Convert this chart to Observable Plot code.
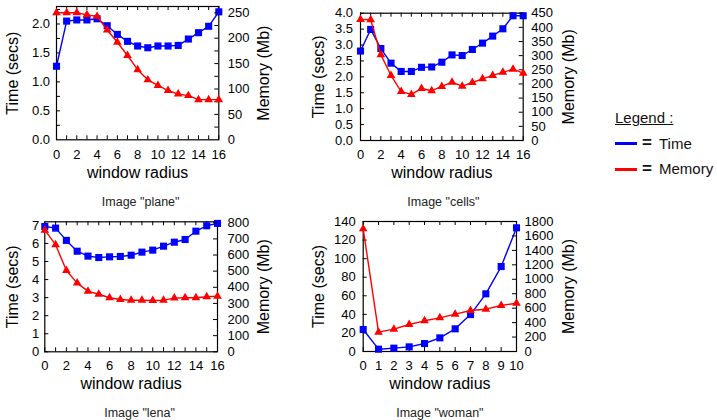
<!DOCTYPE html>
<html><head><meta charset="utf-8">
<script src="https://cdn.jsdelivr.net/npm/d3@7"></script>
<script src="https://cdn.jsdelivr.net/npm/@observablehq/plot@0.6"></script>
<style>
body{margin:0;background:#fff;}
#root{position:relative;width:717px;height:420px;font-family:"Liberation Sans",Arial,sans-serif;color:#000;overflow:hidden;}
#root svg{position:absolute;overflow:visible;}
.lg{position:absolute;font-size:15px;line-height:18px;white-space:nowrap;color:#111;}
.bar{position:absolute;width:22px;height:3px;}
</style></head><body><div id="root"></div>
<script>
// ---- data ----
const radius16 = [0,1,2,3,4,5,6,7,8,9,10,11,12,13,14,15,16];
const radius10 = [0,1,2,3,4,5,6,7,8,9,10];
const xLabels16 = [0,2,4,6,8,10,12,14,16];
const xLabels10 = [0,1,2,3,4,5,6,7,8,9,10];

const planeTime = [1.27,2.05,2.07,2.07,2.09,1.97,1.82,1.70,1.62,1.59,1.62,1.62,1.63,1.74,1.85,1.96,2.21];
const planeMem  = [250,250,250,246,243,216,192,166,138,118,107,97,90,87,79,79,79];
const cellsTime = [2.81,3.49,2.89,2.43,2.17,2.17,2.30,2.31,2.46,2.69,2.67,2.86,3.06,3.28,3.51,3.92,3.92];
const cellsMem  = [428,427,303,230,173,163,184,176,191,206,192,205,218,230,241,252,238];
const lenaTime  = [6.94,6.85,6.17,5.57,5.30,5.22,5.26,5.28,5.35,5.52,5.63,5.85,6.07,6.22,6.68,6.98,7.11];
const lenaMem   = [754,664,504,426,376,357,335,324,320,320,318,320,333,335,335,341,345];
const womanTime = [23.7,2.5,3.6,5.0,8.6,14.7,24.4,39.8,62.1,91.5,133.2];
const womanMem  = [1698,268,309,374,425,466,517,568,586,637,669];

const planeTimeTicks = [0,0.5,1,1.5,2];
const planeTimeMinor = [0.25,0.5,0.75,1,1.25,1.5,1.75,2,2.25];
const planeMemTicks  = [0,50,100,150,200,250];
const planeMemMinor  = [25,50,75,100,125,150,175,200,225,250];
const cellsTimeTicks = [0,0.5,1,1.5,2,2.5,3,3.5,4];
const cellsMemTicks  = [0,50,100,150,200,250,300,350,400,450];
const lenaTimeTicks  = [0,1,2,3,4,5,6,7];
const lenaMemTicks   = [0,100,200,300,400,500,600,700,800];
const womanTimeTicks = [0,20,40,60,80,100,120,140];
const womanMemTicks  = [0,200,400,600,800,1000,1200,1400,1600,1800];

const captions = ['Image "plane"','Image "cells"','Image "lena"','Image "woman"'];
const BLUE = "#0000ff", RED = "#ff0000";
const FONT = '"Liberation Sans", Arial, sans-serif';

const root = document.getElementById("root");

function panel(o) {
  const W = 300, H = 210;
  const [fx0, fx1, fy0, fy1] = o.frame;
  const mL = fx0 - o.left, mR = o.left + W - fx1, mT = fy0 - o.top, mB = o.top + H - fy1;
  const pw = fx1 - fx0, ph = fy1 - fy0;
  const rows = o.xs.map((x, i) => ({x, t: o.time[i], m: o.mem[i]}));
  const common = {width: W, height: H, marginLeft: mL, marginRight: mR, marginTop: mT, marginBottom: mB,
    style: {fontFamily: FONT, fontSize: "13px", background: "transparent", overflow: "visible"}};
  const a = Plot.plot({...common,
    x: {domain: [0, o.xs[o.xs.length - 1]]},
    y: {domain: o.tDom},
    marks: [
      Plot.axisX(o.xLabels, {tickSize: 0, tickPadding: o.xPad, label: null, fontSize: 13, tickFormat: d3.format("d")}),
      Plot.axisY(o.tTicks, {anchor: "left", tickSize: 0, tickPadding: o.tPad, label: null, tickFormat: o.tFmt, fontSize: 13}),
      Plot.tickX(o.xs, {x: d => d, insetTop: ph - 4, strokeWidth: 1}),
      Plot.tickX(o.xs, {x: d => d, insetBottom: ph - 4, strokeWidth: 1}),
      Plot.tickY(o.tMinor, {y: d => d, insetRight: pw - 4, strokeWidth: 1}),
      Plot.frame({stroke: "#000", strokeWidth: 1.2}),
      Plot.line(rows, {x: "x", y: "t", stroke: BLUE, strokeWidth: 1.4}),
      Plot.dot(rows, {x: "x", y: "t", symbol: "square", r: 4, fill: BLUE, stroke: "none"}),
      Plot.text(["Time (secs)"], {frameAnchor: "left", textAnchor: "middle", lineAnchor: "middle", dx: o.leftDx, rotate: -90, fontSize: 16}),
      Plot.text(["window radius"], {frameAnchor: "bottom", textAnchor: "middle", lineAnchor: "middle", dy: o.wrDy, fontSize: 16}),
      Plot.text([o.caption], {frameAnchor: "bottom", textAnchor: "middle", lineAnchor: "middle", dy: o.capDy, dx: o.capDx, fontSize: 12.5, fill: "#222"})
    ]});
  const b = Plot.plot({...common,
    x: {domain: [0, o.xs[o.xs.length - 1]], axis: null},
    y: {domain: o.mDom},
    marks: [
      Plot.axisY(o.mTicks, {anchor: "right", tickSize: 0, tickPadding: o.mPad, label: null, fontSize: 13, tickFormat: d3.format("d")}),
      Plot.tickY(o.mMinor, {y: d => d, insetLeft: pw - 4, strokeWidth: 1}),
      Plot.line(rows, {x: "x", y: "m", stroke: RED, strokeWidth: 1.4}),
      Plot.dot(rows, {x: "x", y: "m", symbol: "triangle", r: 3.2, fill: RED, stroke: "none"}),
      Plot.text(["Memory (Mb)"], {frameAnchor: "right", textAnchor: "middle", lineAnchor: "middle", dx: o.rightDx, rotate: -90, fontSize: 16})
    ]});
  for (const s of [a, b]) {
    s.style.left = o.left + "px";
    s.style.top = o.top + "px";
    root.appendChild(s);
  }
}

const f1 = d3.format(".1f"), f0 = d3.format("d");

panel({left: 0, top: 0, frame: [56, 218.3, 6, 139.3], xs: radius16, xLabels: xLabels16,
  time: planeTime, mem: planeMem, tDom: [0, 2.302], mDom: [0, 262.4],
  tTicks: planeTimeTicks, tMinor: planeTimeMinor, mTicks: planeMemTicks, mMinor: planeMemMinor, tFmt: f1,
  tPad: 6.5, mPad: 9, xPad: 10, leftDx: -43.3, rightDx: 45, wrDy: 33.4, capDy: 61.7, capDx: 3, caption: captions[0]});

panel({left: 300, top: 0, frame: [360, 522.7, 12.7, 140], xs: radius16, xLabels: xLabels16,
  time: cellsTime, mem: cellsMem, tDom: [0, 4], mDom: [0, 450],
  tTicks: cellsTimeTicks, tMinor: cellsTimeTicks, mTicks: cellsMemTicks, mMinor: cellsMemTicks, tFmt: f1,
  tPad: 7.5, mPad: 8, xPad: 9.5, leftDx: -41.7, rightDx: 45.3, wrDy: 32.5, capDy: 61, capDx: 1.5, caption: captions[1]});

panel({left: 0, top: 210, frame: [44.3, 217, 221.3, 351.3], xs: radius16, xLabels: xLabels16,
  time: lenaTime, mem: lenaMem, tDom: [0, 7.2], mDom: [0, 806],
  tTicks: lenaTimeTicks, tMinor: lenaTimeTicks, mTicks: lenaMemTicks, mMinor: lenaMemTicks, tFmt: f0,
  tPad: 5.5, mPad: 10, xPad: 9, leftDx: -31.6, rightDx: 46, wrDy: 32.3, capDy: 61, capDx: 8.4, caption: captions[2]});

panel({left: 300, top: 210, frame: [362.7, 516, 221, 351], xs: radius10, xLabels: xLabels10,
  time: womanTime, mem: womanMem, tDom: [0, 140], mDom: [0, 1800],
  tTicks: womanTimeTicks, tMinor: womanTimeTicks, mTicks: womanMemTicks, mMinor: womanMemTicks, tFmt: f0,
  tPad: 7.5, mPad: 8, xPad: 9, leftDx: -44.4, rightDx: 52.3, wrDy: 32.5, capDy: 61, capDx: 0, caption: captions[3]});

// ---- legend ----
const legend = [
  {html: '<span style="text-decoration:underline">Legend :</span>', left: 615, top: 109},
  {html: '<b style="font-size:17px">=</b>', left: 642, top: 134},
  {html: 'Time', left: 659, top: 134.5},
  {html: '<b style="font-size:17px">=</b>', left: 642, top: 159.5},
  {html: 'Memory', left: 659, top: 160}
];
for (const l of legend) {
  const d = document.createElement("div");
  d.className = "lg"; d.innerHTML = l.html;
  d.style.left = l.left + "px"; d.style.top = l.top + "px";
  root.appendChild(d);
}
for (const [c, y] of [[BLUE, 142], [RED, 167.5]]) {
  const d = document.createElement("div");
  d.className = "bar"; d.style.background = c;
  d.style.left = "615px"; d.style.top = y + "px";
  root.appendChild(d);
}
</script></body></html>
